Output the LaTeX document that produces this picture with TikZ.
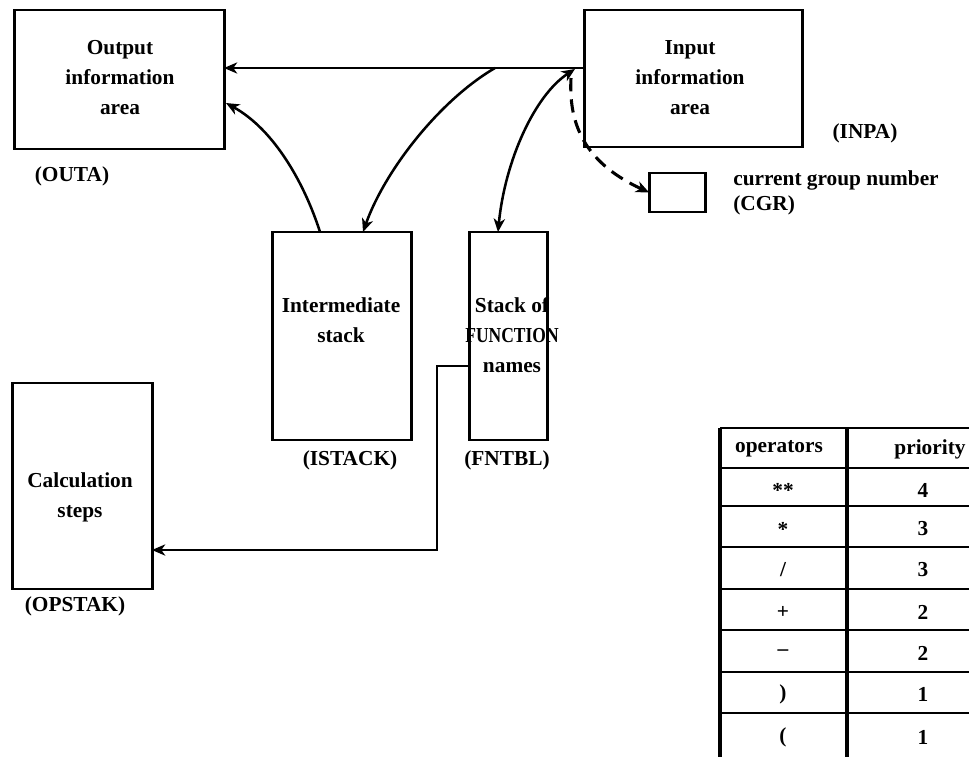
\documentclass[tikz,border=0pt]{standalone}
\usepackage{fontspec}
\usepackage{graphicx}
\setmainfont{Liberation Serif}
\usetikzlibrary{arrows.meta,fit}
\begin{document}
\begin{tikzpicture}[x=0.75pt,y=-0.75pt,
  >={Stealth[length=10pt,width=8.5pt,inset=3pt]},
  box/.style={draw, line width=1.3pt, inner sep=0pt},
  vside/.style={line width=2.4pt},
  lbl/.style={font=\fontsize{16}{22.5}\selectfont\bfseries, align=center, inner sep=0pt},
  cell/.style={font=\fontsize{16}{18}\selectfont\bfseries, inner sep=0pt},
  tipend/.style={->},
  curve/.style={line width=1.9pt},
  thinline/.style={line width=0.8pt},
  rowline/.style={line width=1pt},
  colline/.style={line width=2.6pt},
]
\useasboundingbox (0,0) rectangle (969,757);

% storage areas
\node[box, fit={(15,10)(224,149)}] (outa) {};
\node[box, fit={(585,10)(802,147)}] (inpa) {};
\node[box, fit={(650,173)(705,212)}] (cgr) {};
\node[box, fit={(273,232)(411,440)}] (istack) {};
\node[box, fit={(470,232)(547,440)}] (fntbl) {};
\node[box, fit={(13,383)(152,589)}] (opstak) {};
\foreach \n in {outa,inpa,cgr,istack,fntbl,opstak}
  \draw[vside] (\n.north west) -- (\n.south west) (\n.north east) -- (\n.south east);

% box texts
\node[lbl] (outatxt) at (120,78) {Output\\information\\area};
\node[lbl] (inpatxt) at (690,78) {Input\\information\\area};
\node[lbl] (istacktxt) at (341,320) {Intermediate\\stack};
\node[lbl] (fntbltxt) at (512,335) {Stack of\\\scalebox{0.82}[1]{FUNCTION}\\names};
\node[lbl] (opstaktxt) at (80,497) {Calculation\\steps};

% names under the areas
\node[lbl] (outaname) at (72,176) {(OUTA)};
\node[lbl] (inpaname) at (865,133) {(INPA)};
\node[lbl, anchor=west] (cgrtxt) at (733,180) {current group number};
\node[lbl, anchor=west] (cgrname) at (733,205) {(CGR)};
\node[lbl] (istackname) at (350,460) {(ISTACK)};
\node[lbl] (fntblname) at (507,460) {(FNTBL)};
\node[lbl] (opstakname) at (75,606) {(OPSTAK)};

% connector end points
\coordinate (hub) at (585,68);
\coordinate (outahi) at (224,68);
\coordinate (outalo) at (226,103);
\coordinate (branch) at (495,68);
\coordinate (istackin) at (363,232);
\coordinate (istackout) at (320,232);
\coordinate (fntblin) at (498,232);
\coordinate (hubtip) at (575,69);
\coordinate (dashstart) at (571,78);
\coordinate (fntblout) at (470,366);
\coordinate (bendA) at (437,366);
\coordinate (bendB) at (437,550);
\coordinate (opstakin) at (152,550);

% connectors
\draw[thinline, tipend] (hub) -- (outahi);
\draw[curve, tipend] (branch) .. controls (440,100) and (385,170) .. (istackin);
\draw[curve, tipend] (istackout) .. controls (305,185) and (275,130) .. (outalo);
\draw[curve, <->] (hubtip) .. controls (535,95) and (505,160) .. (fntblin);
\draw[line width=2.3pt, dash pattern=on 10pt off 6pt, tipend]
  (dashstart) .. controls (568,130) and (590,165) .. (cgr.west);
\draw[line width=1.1pt, tipend] (fntblout) -- (bendA) -- (bendB) -- (opstakin);

% priority table
\draw[line width=1.4pt] (720,428) -- (969,428);
\foreach \y in {468,506,547,589,630,672,713}
  \draw[rowline] (720,\y) -- (969,\y);
\draw[colline] (720,428) -- (720,757);
\draw[colline] (847,428) -- (847,757);

\node[cell] (hop) at (779,449) {operators};
\node[cell] (hpr) at (930,449) {priority};
\node[cell] (op1) at (783,490) {\raisebox{-0.4ex}{**}};
\node[cell] (pr1) at (923,490) {4};
\node[cell] (op2) at (783,529) {\raisebox{-0.4ex}{*}};
\node[cell] (pr2) at (923,529) {3};
\node[cell] (op3) at (783,570) {/};
\node[cell] (pr3) at (923,570) {3};
\node[cell] (op4) at (783,612) {+};
\node[cell] (pr4) at (923,612) {2};
\node[cell] (op5) at (783,653) {--};
\node[cell] (pr5) at (923,653) {2};
\node[cell] (op6) at (783,694) {)};
\node[cell] (pr6) at (923,694) {1};
\node[cell] (op7) at (783,737) {(};
\node[cell] (pr7) at (923,737) {1};
\end{tikzpicture}
\end{document}
